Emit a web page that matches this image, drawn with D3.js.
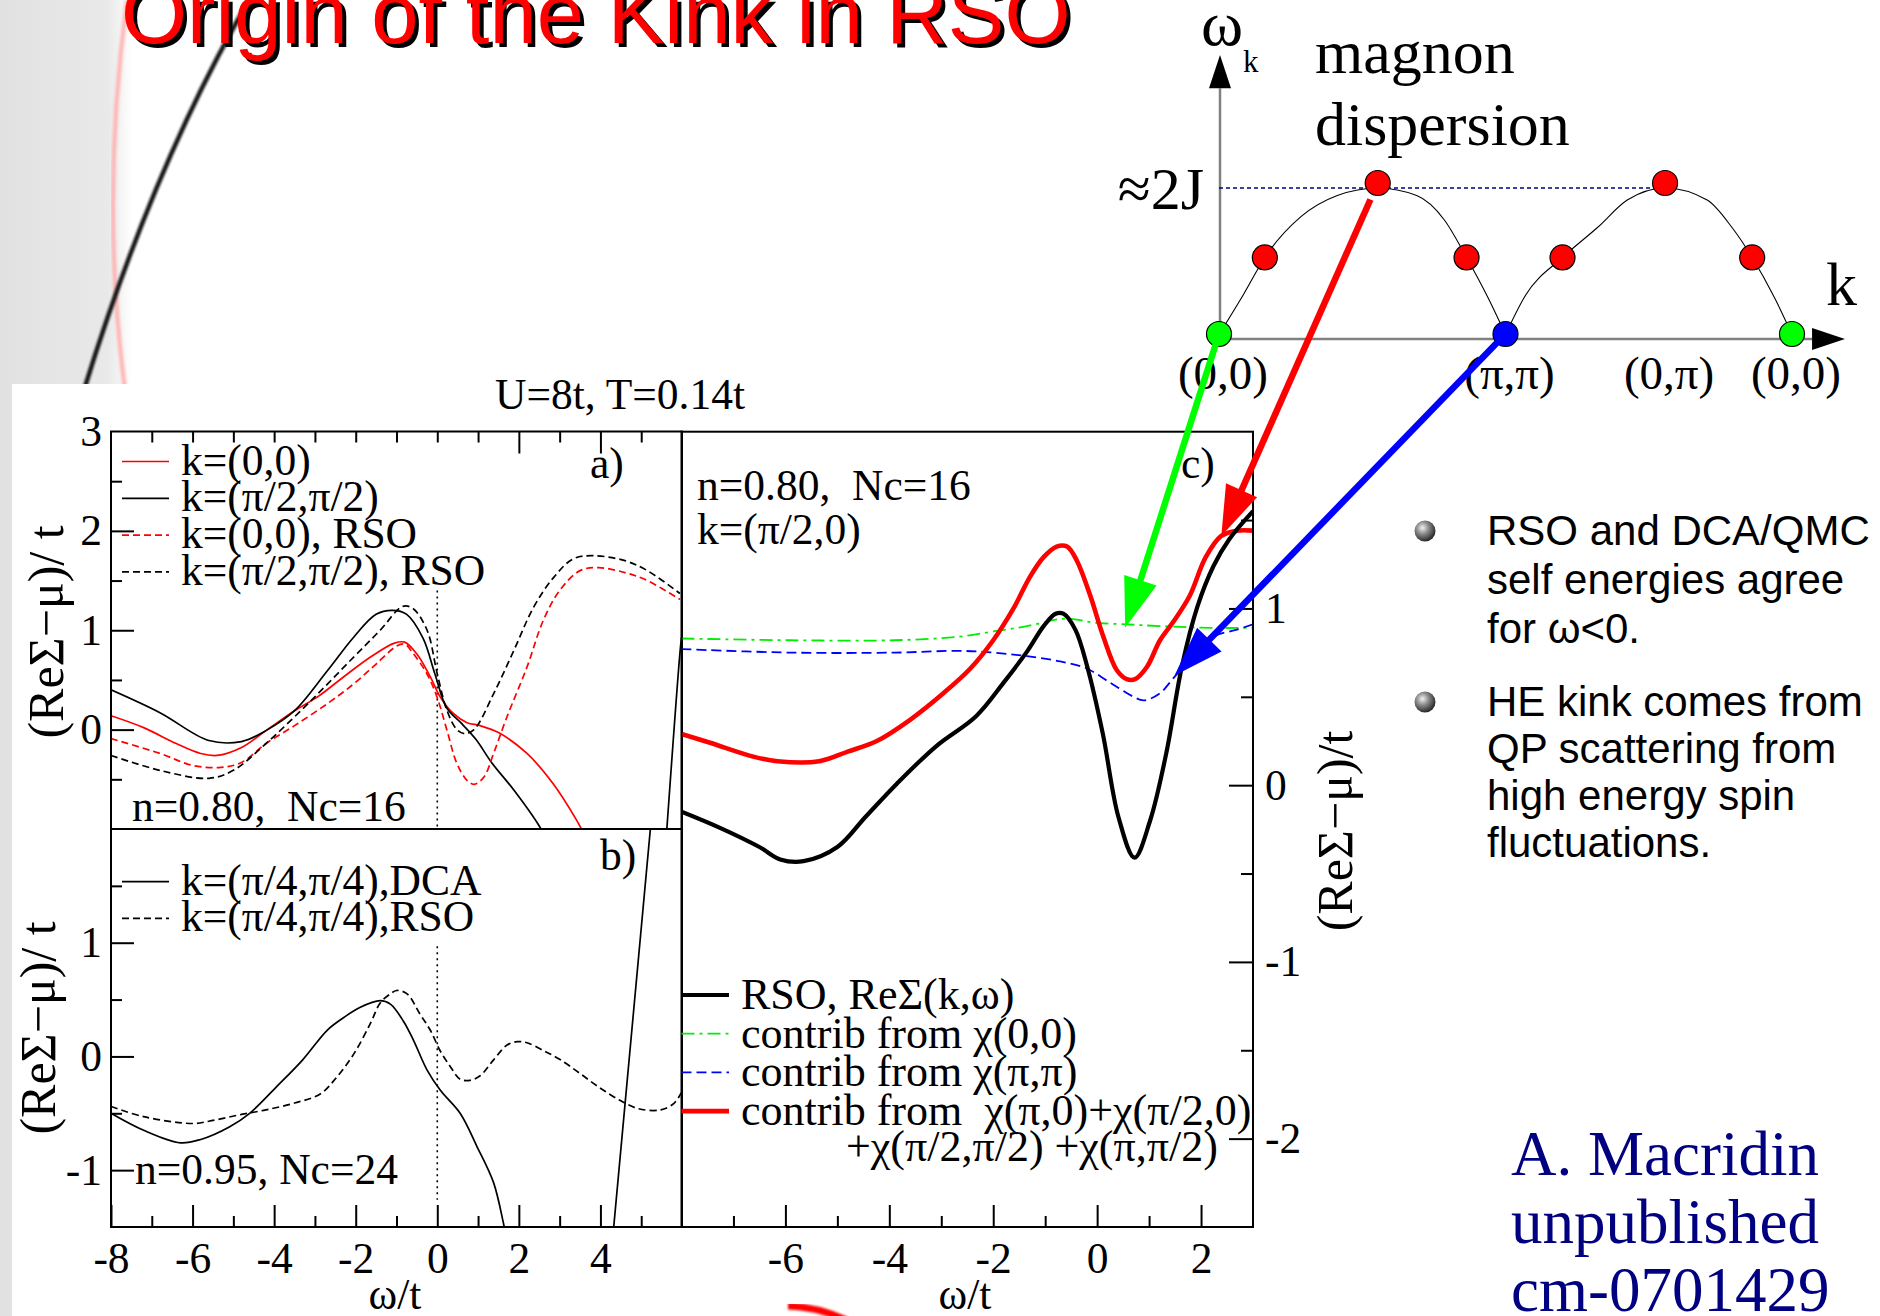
<!DOCTYPE html>
<html>
<head>
<meta charset="utf-8">
<script src="https://cdn.jsdelivr.net/npm/d3@7/dist/d3.min.js"></script>
<style>
html,body{margin:0;padding:0;background:#fff;}
svg{display:block;}
text{white-space:pre;}
</style>
</head>
<body>
<svg id="slide" width="1880" height="1316"></svg>
<script>
// ---------- panel a) n=0.80, Nc=16 : [omega/t, (ReSigma-mu)/t] ----------
const aDca00 = [[-8,0.14],[-7.2,0.02],[-6.4,-0.14],[-5.8,-0.24],[-5.4,-0.26],[-4.8,-0.18],[-4.2,-0.01],[-3.5,0.19],[-2.9,0.34],[-2.3,0.53],[-1.6,0.74],[-1.05,0.87],[-0.8,0.88],[-0.5,0.76],[-0.17,0.53],[0.07,0.33],[0.4,0.16],[0.73,0.07],[1.05,0.04],[1.5,-0.03],[2.2,-0.24],[2.85,-0.55],[3.4,-0.9],[3.6,-1.05]];
const aDcaHalf = [[-8,0.40],[-6.8,0.17],[-5.6,-0.11],[-4.8,-0.12],[-4.2,-0.01],[-3.5,0.19],[-2.7,0.59],[-2.05,0.93],[-1.5,1.16],[-1.1,1.2],[-0.75,1.16],[-0.35,0.92],[-0.05,0.55],[0.23,0.22],[0.6,0.06],[0.95,-0.1],[1.33,-0.33],[1.9,-0.62],[2.5,-0.97],[2.6,-1.05],null,[5.62,-1.05],[5.97,0.86],[6.0,0.95]];
const aRso00 = [[-8,-0.09],[-6.8,-0.24],[-6.0,-0.36],[-5.3,-0.38],[-4.8,-0.33],[-4.2,-0.14],[-3.5,0.04],[-2.7,0.26],[-2.05,0.46],[-1.5,0.66],[-1.0,0.84],[-0.8,0.86],[-0.58,0.76],[-0.25,0.56],[0.0,0.32],[0.24,-0.01],[0.48,-0.34],[0.73,-0.51],[0.9,-0.55],[1.14,-0.48],[1.38,-0.24],[1.7,0.12],[2.2,0.63],[2.6,1.1],[3.0,1.4],[3.5,1.6],[3.95,1.63],[4.6,1.58],[5.15,1.5],[5.95,1.31]];
const aRsoHalf = [[-8,-0.26],[-6.8,-0.41],[-5.6,-0.49],[-5.0,-0.41],[-4.2,-0.14],[-3.1,0.29],[-2.05,0.73],[-1.4,1.0],[-0.85,1.24],[-0.6,1.22],[-0.25,1.0],[0.0,0.56],[0.24,0.19],[0.48,0.0],[0.67,-0.04],[0.9,0.0],[1.38,0.36],[1.87,0.79],[2.36,1.23],[2.85,1.53],[3.34,1.72],[3.84,1.75],[4.6,1.7],[5.15,1.6],[5.95,1.37]];
const legendA = ["k=(0,0)", "k=(\u03c0/2,\u03c0/2)", "k=(0,0), RSO", "k=(\u03c0/2,\u03c0/2), RSO"];
const fermiA = [0, 1.4, -1];

// ---------- panel b) n=0.95, Nc=24 ----------
const bDca = [[-8,-0.5],[-7.2,-0.65],[-6.3,-0.76],[-5.8,-0.73],[-5.1,-0.62],[-4.6,-0.5],[-3.95,-0.27],[-3.3,-0.03],[-2.7,0.23],[-2.3,0.34],[-1.9,0.43],[-1.4,0.49],[-1.15,0.46],[-0.83,0.31],[-0.58,0.14],[-0.25,-0.12],[0.08,-0.3],[0.56,-0.5],[0.97,-0.79],[1.38,-1.11],[1.63,-1.48],[1.7,-1.6],null,[4.3,-1.6],[5.25,2.1]];
const bRso = [[-8,-0.44],[-7.2,-0.53],[-6.0,-0.59],[-5.6,-0.57],[-4.8,-0.51],[-4.2,-0.47],[-3.5,-0.41],[-2.87,-0.33],[-2.46,-0.18],[-2.05,0.02],[-1.64,0.29],[-1.4,0.47],[-1.15,0.55],[-1.0,0.58],[-0.74,0.55],[-0.42,0.37],[-0.17,0.23],[0.07,0.05],[0.32,-0.09],[0.56,-0.2],[0.8,-0.21],[1.05,-0.17],[1.38,-0.03],[1.71,0.1],[1.96,0.13],[2.2,0.12],[2.61,0.05],[3.02,-0.03],[3.5,-0.15],[4.0,-0.28],[4.5,-0.39],[4.93,-0.46],[5.48,-0.47],[5.81,-0.41],[5.98,-0.32]];
const legendB = ["k=(\u03c0/4,\u03c0/4),DCA", "k=(\u03c0/4,\u03c0/4),RSO"];
const fermiB = [0, 0.97, -1.26];

// ---------- panel c) k=(pi/2,0) contributions ----------
const cRso = [[-8,-0.15],[-7.27,-0.24],[-6.5,-0.35],[-6.1,-0.42],[-5.65,-0.43],[-5.0,-0.35],[-4.46,-0.18],[-3.85,0.01],[-3.1,0.22],[-2.33,0.39],[-1.8,0.58],[-1.34,0.76],[-1.03,0.9],[-0.8,0.97],[-0.65,0.97],[-0.42,0.88],[-0.19,0.67],[0.11,0.29],[0.41,-0.18],[0.72,-0.41],[1.02,-0.2],[1.33,0.18],[1.63,0.67],[1.93,1.01],[2.24,1.24],[2.54,1.39],[3.0,1.55]];
const cChi00 = [[-8,0.83],[-5.9,0.82],[-3.9,0.82],[-2.66,0.84],[-2.0,0.87],[-1.35,0.9],[-0.71,0.94],[-0.46,0.94],[-0.07,0.92],[0.57,0.91],[1.21,0.9],[2.24,0.89],[3.0,0.89]];
const cChiPiPi = [[-8,0.77],[-5.9,0.75],[-3.9,0.75],[-2.66,0.76],[-2.0,0.75],[-1.35,0.73],[-0.71,0.7],[-0.2,0.66],[0.25,0.58],[0.7,0.5],[0.9,0.48],[1.21,0.52],[1.48,0.61],[1.86,0.73],[2.24,0.84],[2.69,0.88],[3.0,0.91]];
const cChiRest = [[-8,0.29],[-7.45,0.24],[-6.6,0.16],[-6.15,0.135],[-5.35,0.135],[-4.8,0.19],[-4.24,0.25],[-3.6,0.37],[-2.96,0.52],[-2.44,0.66],[-2.0,0.82],[-1.61,1.0],[-1.29,1.18],[-1.03,1.29],[-0.78,1.35],[-0.58,1.35],[-0.39,1.27],[-0.13,1.07],[0.12,0.84],[0.38,0.65],[0.57,0.6],[0.73,0.6],[0.96,0.67],[1.21,0.82],[1.48,0.93],[1.78,1.07],[2.09,1.29],[2.39,1.41],[2.69,1.44],[3.0,1.44]];
const legendC = ["RSO, Re\u03a3(k,\u03c9)", "contrib from \u03c7(0,0)", "contrib from \u03c7(\u03c0,\u03c0)", "contrib from  \u03c7(\u03c0,0)+\u03c7(\u03c0/2,0)"];
const legendCcont = "+\u03c7(\u03c0/2,\u03c0/2) +\u03c7(\u03c0,\u03c0/2)";

// ---------- ticks ----------
const abMajorX = [-8,-6,-4,-2,0,2,4];
const abMinorX = [-7,-5,-3,-1,1,3,5];
const aTopMinor = [-7,-6,-5,-4,-3,-2,-1,0,1,3,5];
const aTopMajor = [2,4];
const aMajorY = [0,1,2,3];
const aMinorY = [-0.5,0.5,1.5,2.5];
const bMajorY = [-1,0,1];
const bMinorY = [-0.5,0.5,1.5];
const cMajorX = [-6,-4,-2,0,2];
const cMinorX = [-7,-5,-3,-1,1];
const cMajorY = [-2,-1,0,1];
const cMinorY = [-1.5,-0.5,0.5,1.5];

// ---------- magnon dispersion along (0,0)-(pi,pi)-(0,pi)-(0,0), omega in units of 2J ----------
const magnonArch1 = [[0,0.03],[0.087,0.30],[0.16,0.54],[0.286,0.81],[0.413,0.95],[0.554,1.0],[0.69,0.95],[0.786,0.79],[0.864,0.54],[0.94,0.27],[1,0.03]];
const magnonArch2 = [[1,0.03],[1.07,0.29],[1.199,0.54],[1.322,0.74],[1.425,0.92],[1.557,1.0],[1.704,0.92],[1.79,0.74],[1.861,0.54],[1.94,0.27],[2,0.03]];
const magnonDotS = [0,0.16,0.554,0.864,1,1.199,1.557,1.861,2];
const magnonDotW = [0.033,0.54,1.033,0.54,0.033,0.54,1.033,0.54,0.033];
const magnonDotQ = ["zero","mid","mid","mid","pipi","mid","mid","mid","zero"];
const kNodeS = [0,1,1.557,2];
const kNodeLabel = ["(0,0)","(\u03c0,\u03c0)","(0,\u03c0)","(0,0)"];
const maxLevel = 1.0;

// arrows: magnon dot index -> [omega/t, ReSigma] point in panel c
const arrowFrom = [0, 2, 4];
const arrowTo = [[0.54,0.89],[2.39,1.41],[1.49,0.62]];

const bulletLines = [
  ["RSO and DCA/QMC", "self energies agree", "for \u03c9<0."],
  ["HE kink comes from", "QP scattering from", "high energy spin", "fluctuations."]
];
const creditLines = ["A. Macridin", "unpublished", "cm-0701429"];

// ================= drawing =================
const SERIF = "'Liberation Serif','Times New Roman',Times,serif";
const SANS = "'Liberation Sans',Arial,Helvetica,sans-serif";
const FS = 43.5;
const svg = d3.select("#slide");
const defs = svg.append("defs");

// slide background with the grey left strip and the template swooshes
const strip = defs.append("linearGradient").attr("id","strip").attr("x1",0).attr("x2",1).attr("y1",0).attr("y2",0);
strip.append("stop").attr("offset","0%").attr("stop-color","#e1e1e1");
strip.append("stop").attr("offset","82%").attr("stop-color","#e9e9e9");
strip.append("stop").attr("offset","100%").attr("stop-color","#ffffff");
defs.append("filter").attr("id","soft").append("feGaussianBlur").attr("stdDeviation",1.1);
defs.append("filter").attr("id","softer").append("feGaussianBlur").attr("stdDeviation",1.8);

svg.append("rect").attr("width",1880).attr("height",1316).attr("fill","#fff");
svg.append("rect").attr("x",0).attr("y",0).attr("width",132).attr("height",1316).attr("fill","url(#strip)");
svg.append("path").attr("d","M127,0 Q100,200 125,390").attr("fill","none").attr("stroke","#ffb0b0").attr("stroke-width",4).attr("filter","url(#softer)");
svg.append("path").attr("d","M252,-5 Q155,160 84,390").attr("fill","none").attr("stroke","#151515").attr("stroke-width",4.5).attr("filter","url(#soft)");

// white card behind the figure
svg.append("rect").attr("x",12).attr("y",384).attr("width",1868).attr("height",932).attr("fill","#fff");
svg.append("path").attr("d","M788,1306 Q818,1307 846,1320").attr("fill","none").attr("stroke","#ff0000").attr("stroke-width",7).attr("filter","url(#soft)");

// title
const titleG = svg.append("g").attr("font-family",SANS).attr("font-size",85);
titleG.append("text").attr("x",125).attr("y",47).attr("fill","#000").text("Origin of the Kink in RSO");
titleG.append("text").attr("x",121).attr("y",43).attr("fill","#ff0000").text("Origin of the Kink in RSO");

// scales
const xAB = d3.scaleLinear([-8,6],[111,682]);
const yA = d3.scaleLinear([-1,3],[829,431.5]);
const yB = d3.scaleLinear([-1.5,2],[1227,829]);
const xC = d3.scaleLinear([-8,3],[681.5,1253]);
const yC = d3.scaleLinear([-2.5,2],[1227,431.7]);

function clipFor(id, x, y) {
  const [x0,x1] = x.range(), [y0,y1] = y.range();
  defs.append("clipPath").attr("id",id).append("rect")
    .attr("x",Math.min(x0,x1)).attr("y",Math.min(y0,y1))
    .attr("width",Math.abs(x1-x0)).attr("height",Math.abs(y1-y0));
  return "url(#"+id+")";
}
const lineFor = (x,y) => d3.line().defined(d => d !== null).x(d => x(d[0])).y(d => y(d[1])).curve(d3.curveCatmullRom.alpha(0.5));

function txt(g, x, y, s, size, extra) {
  const t = g.append("text").attr("x",x).attr("y",y).attr("font-family",SERIF).attr("font-size",size).attr("fill","#000").text(s);
  if (extra) extra(t);
  return t;
}

function axis(g, orient, scale, at, major, minor, majorLen, minorLen, labels, pad) {
  const gen = {bottom:d3.axisBottom, top:d3.axisTop, left:d3.axisLeft, right:d3.axisRight}[orient];
  const tr = (orient === "bottom" || orient === "top") ? `translate(0,${at})` : `translate(${at},0)`;
  const gm = g.append("g").attr("transform",tr)
    .call(gen(scale).tickValues(minor).tickSizeInner(-minorLen).tickSizeOuter(0).tickFormat(""));
  const gM = g.append("g").attr("transform",tr)
    .call(gen(scale).tickValues(major).tickSizeInner(-majorLen).tickSizeOuter(0).tickPadding(pad || 10)
      .tickFormat(labels ? (d => String(d)) : ""));
  [gm, gM].forEach(s => {
    s.select(".domain").remove();
    s.selectAll("line").attr("stroke","#000").attr("stroke-width",2);
    s.selectAll("text").attr("font-family",SERIF).attr("font-size",FS).attr("fill","#000");
  });
}

function frame(g, x, y) {
  const [x0,x1] = x.range(), [y0,y1] = y.range();
  g.append("rect").attr("x",x0).attr("y",y1).attr("width",x1-x0).attr("height",y0-y1)
    .attr("fill","none").attr("stroke","#000").attr("stroke-width",2);
}

function fermiLine(g, x, y, f) {
  g.append("line").attr("x1",x(f[0])).attr("x2",x(f[0])).attr("y1",y(f[1])).attr("y2",y(f[2]))
    .attr("stroke","#000").attr("stroke-width",1.6).attr("stroke-dasharray","2,4");
}

function series(g, x, y, data, color, width, dash, clip) {
  g.append("path").attr("d",lineFor(x,y)(data)).attr("fill","none")
    .attr("stroke",color).attr("stroke-width",width).attr("stroke-dasharray",dash)
    .attr("stroke-linejoin","round").attr("clip-path",clip);
}

function legend(g, x1, x2, tx, rows, y0, step, styles, base, size) {
  rows.forEach((s, i) => {
    const y = y0 + i*step, st = styles[i];
    g.append("line").attr("x1",x1).attr("x2",x2).attr("y1",y).attr("y2",y)
      .attr("stroke",st.color).attr("stroke-width",st.width).attr("stroke-dasharray",st.dash);
    txt(g, tx, y + base, s, size);
  });
}

const fig = svg.append("g");

// ----- panel a -----
const pa = fig.append("g");
const clipA = clipFor("clipA", xAB, yA);
fermiLine(pa, xAB, yA, fermiA);
const styleA = [
  {color:"#ff0000", width:1.7, dash:null},
  {color:"#000", width:1.7, dash:null},
  {color:"#ff0000", width:1.7, dash:"7,4"},
  {color:"#000", width:1.7, dash:"7,4"}
];
[aDca00, aDcaHalf, aRso00, aRsoHalf].forEach((d,i) => series(pa, xAB, yA, d, styleA[i].color, styleA[i].width, styleA[i].dash, clipA));
frame(pa, xAB, yA);
axis(pa, "left", yA, xAB.range()[0], aMajorY.filter(v => v < 3), aMinorY, 23, 11, false);
pa.append("g").attr("transform",`translate(${xAB.range()[0]},0)`)
  .call(d3.axisLeft(yA).tickValues(aMajorY).tickSize(0).tickPadding(9).tickFormat(d => String(d)))
  .call(s => { s.select(".domain").remove(); s.selectAll("text").attr("font-family",SERIF).attr("font-size",FS).attr("fill","#000"); });
axis(pa, "top", xAB, yA.range()[1], aTopMajor, aTopMinor, 22, 11, false);
legend(pa, 122, 169, 181, legendA, 461.5, 36.8, styleA, 13, FS);
txt(pa, 590, 478, "a)", FS);
txt(pa, 132, 821, "n=0.80,  Nc=16", FS);
txt(pa, 0, 0, "(Re\u03a3\u2212\u03bc)/ t", 50, t => t.attr("text-anchor","middle").attr("dominant-baseline","central").attr("transform","translate(46,632) rotate(-90)"));

// ----- panel b -----
const pb = fig.append("g");
const clipB = clipFor("clipB", xAB, yB);
fermiLine(pb, xAB, yB, fermiB);
const styleB = [
  {color:"#000", width:1.7, dash:null},
  {color:"#000", width:1.7, dash:"7,4"}
];
[bDca, bRso].forEach((d,i) => series(pb, xAB, yB, d, styleB[i].color, styleB[i].width, styleB[i].dash, clipB));
frame(pb, xAB, yB);
axis(pb, "left", yB, xAB.range()[0], bMajorY, bMinorY, 23, 11, true, 9);
axis(pb, "bottom", xAB, yB.range()[0], abMajorX, abMinorX, 22, 11, true, 15);
legend(pb, 122, 169, 181, legendB, 881.7, 36.6, styleB, 13, FS);
txt(pb, 600, 870, "b)", FS);
txt(pb, 135, 1184, "n=0.95, Nc=24", FS);
txt(pb, 0, 0, "(Re\u03a3\u2212\u03bc)/ t", 50, t => t.attr("text-anchor","middle").attr("dominant-baseline","central").attr("transform","translate(38,1028) rotate(-90)"));
txt(pb, 395, 1309, "\u03c9/t", FS, t => t.attr("text-anchor","middle"));

// header
txt(fig, 620, 409, "U=8t, T=0.14t", FS, t => t.attr("text-anchor","middle"));

// ----- panel c -----
const pc = fig.append("g");
const clipC = clipFor("clipC", xC, yC);
const styleC = [
  {color:"#000", width:4.2, dash:null},
  {color:"#00ee00", width:1.8, dash:"13,5,3,5"},
  {color:"#0000ff", width:1.8, dash:"10,5"},
  {color:"#ff0000", width:4.6, dash:null}
];
[cChi00, cChiPiPi, cChiRest, cRso].forEach((d,i) => {
  const st = styleC[[1,2,3,0][i]];
  series(pc, xC, yC, d, st.color, st.width, st.dash, clipC);
});
frame(pc, xC, yC);
axis(pc, "bottom", xC, yC.range()[0], cMajorX, cMinorX, 22, 11, true, 15);
axis(pc, "right", yC, xC.range()[1], cMajorY, cMinorY, 24, 12, false);
pc.append("g").attr("transform",`translate(${xC.range()[1]},0)`)
  .call(d3.axisRight(yC).tickValues(cMajorY).tickSize(0).tickPadding(12).tickFormat(d => String(d)))
  .call(s => { s.select(".domain").remove(); s.selectAll("text").attr("font-family",SERIF).attr("font-size",FS).attr("fill","#000"); });
legend(pc, 681.5, 729, 741, legendC, 995, 38.7, styleC, 14, 44);
txt(pc, 846, 1161, legendCcont, 44);
txt(pc, 697, 500, "n=0.80,  Nc=16", FS);
txt(pc, 697, 544, "k=(\u03c0/2,0)", FS);
txt(pc, 1181, 478, "c)", FS);
txt(pc, 965, 1309, "\u03c9/t", FS, t => t.attr("text-anchor","middle"));
txt(pc, 0, 0, "(Re\u03a3\u2212\u03bc)/t", 50, t => t.attr("text-anchor","middle").attr("dominant-baseline","central").attr("transform","translate(1335,831) rotate(-90)"));

// ----- magnon dispersion sketch -----
const xM = d3.scaleLinear([0,2],[1219,1792]);
const yM = d3.scaleLinear([0,1],[339,188]);
const mg = svg.append("g");
mg.append("line").attr("x1",xM(0)+1).attr("x2",xM(0)+1).attr("y1",yM(-0.02)).attr("y2",yM(1.66))
  .attr("stroke","#808080").attr("stroke-width",2.5);
mg.append("path").attr("d",`M${xM(0)+1},${yM(1.88)} L${xM(0)-10},${yM(1.66)} L${xM(0)+12},${yM(1.66)} Z`).attr("fill","#000");
mg.append("line").attr("x1",xM(0)).attr("x2",xM(2.07)).attr("y1",yM(0)).attr("y2",yM(0))
  .attr("stroke","#808080").attr("stroke-width",2.5);
mg.append("path").attr("d",`M${xM(2.185)},${yM(0)} L${xM(2.07)},${yM(0)-11} L${xM(2.07)},${yM(0)+11} Z`).attr("fill","#000");
mg.append("line").attr("x1",xM(0)).attr("x2",xM(1.557)).attr("y1",yM(maxLevel)).attr("y2",yM(maxLevel))
  .attr("stroke","#000080").attr("stroke-width",1.3).attr("stroke-dasharray","4,3");
const mLine = d3.line().x(d => xM(d[0])).y(d => yM(d[1])).curve(d3.curveMonotoneX);
[magnonArch1, magnonArch2].forEach(a => mg.append("path").attr("d",mLine(a)).attr("fill","none").attr("stroke","#000").attr("stroke-width",1.1));
const dotColor = {zero:"#00ff00", mid:"#ff0000", pipi:"#0000ff"};
magnonDotS.forEach((s,i) => mg.append("circle").attr("cx",xM(s)).attr("cy",yM(magnonDotW[i])).attr("r",12.5)
  .attr("fill",dotColor[magnonDotQ[i]]).attr("stroke","#000").attr("stroke-width",1.2));
kNodeS.forEach((s,i) => txt(mg, xM(s)+4, 389, kNodeLabel[i], 47, t => t.attr("text-anchor","middle")));
txt(mg, 1201, 45, "\u03c9", 64);
txt(mg, 1243, 72, "k", 31);
txt(mg, 1826, 305, "k", 62);
txt(mg, 1204, yM(maxLevel)+21, "\u22482J", 60, t => t.attr("text-anchor","end"));
txt(mg, 1315, 73, "magnon", 62);
txt(mg, 1315, 145, "dispersion", 62);

// ----- arrows linking magnon momenta to features of panel c -----
const arrowColor = ["#00ff00","#ff0000","#0000ff"];
const ag = svg.append("g");
arrowFrom.forEach((di, i) => {
  const sx = xM(magnonDotS[di]), sy = yM(magnonDotW[di]);
  const tx = xC(arrowTo[i][0]), ty = yC(arrowTo[i][1]);
  const dx = tx - sx, dy = ty - sy, L = Math.hypot(dx, dy), ux = dx/L, uy = dy/L;
  const start = i === 1 ? 18 : 6, head = 50, half = 17;
  const bx = tx - ux*head, by = ty - uy*head;
  ag.append("line").attr("x1",sx+ux*start).attr("y1",sy+uy*start).attr("x2",bx+ux*4).attr("y2",by+uy*4)
    .attr("stroke",arrowColor[i]).attr("stroke-width",6.5);
  ag.append("path").attr("d",`M${tx},${ty} L${bx-uy*half},${by+ux*half} L${bx+uy*half},${by-ux*half} Z`)
    .attr("fill",arrowColor[i]);
});

// ----- bullets -----
const ball = defs.append("radialGradient").attr("id","ball").attr("cx","38%").attr("cy","35%").attr("r","65%");
ball.append("stop").attr("offset","0%").attr("stop-color","#f2f2f2");
ball.append("stop").attr("offset","45%").attr("stop-color","#8c8c8c");
ball.append("stop").attr("offset","100%").attr("stop-color","#2a2a2a");
const bg = svg.append("g");
const bulletTop = [545, 716], lineStep = [49, 47];
bulletLines.forEach((lines, b) => {
  bg.append("circle").attr("cx",1425).attr("cy",bulletTop[b]-14).attr("r",10.5).attr("fill","url(#ball)");
  lines.forEach((s, j) => bg.append("text").attr("x",1487).attr("y",bulletTop[b]+j*lineStep[b])
    .attr("font-family",SANS).attr("font-size",42).attr("fill","#000").text(s));
});
creditLines.forEach((s, j) => bg.append("text").attr("x",1511).attr("y",1175+j*68)
  .attr("font-family",SERIF).attr("font-size",63).attr("fill","#000080").text(s));
</script>
</body>
</html>
